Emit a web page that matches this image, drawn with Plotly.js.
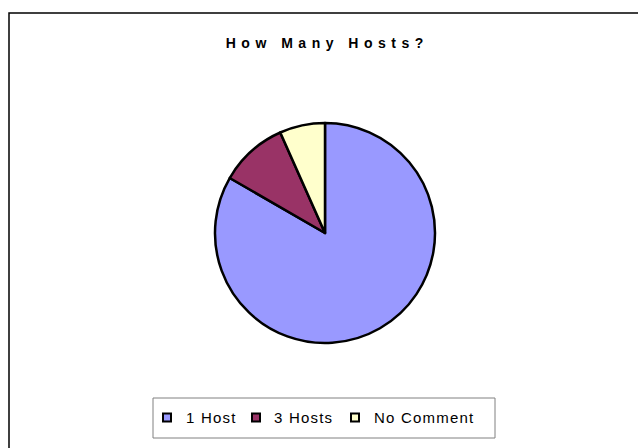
<!DOCTYPE html>
<html>
<head>
<meta charset="utf-8">
<script src="https://cdn.plot.ly/plotly-3.0.1.min.js"></script>
<style>
html,body{margin:0;padding:0;background:#fff;}
#chart{width:638px;height:448px;}
.gtitle{letter-spacing:5.5px;}
.annotation-text{letter-spacing:1.2px;}
</style>
</head>
<body>
<div id="chart"></div>
<script>
var labels = ["1 Host", "3 Hosts", "No Comment"];
var values = [25, 3, 2];
var colors = ["#9999FF", "#993366", "#FFFFCC"];
var chartTitle = "How Many Hosts?";

var W = 638, H = 448;
function px(x){ return x / W; }
function py(y){ return 1 - y / H; }

var cx = 325, cy = 233, r = 110;

var trace = {
  type: "pie",
  labels: labels,
  values: values,
  sort: false,
  direction: "clockwise",
  rotation: 0,
  textinfo: "none",
  hoverinfo: "label+value+percent",
  marker: {colors: colors, line: {color: "#000000", width: 2.5}},
  domain: {x: [px(cx - r), px(cx + r)], y: [py(cy + r), py(cy - r)]},
  showlegend: false
};

var shapes = [
  {type: "rect", xref: "paper", yref: "paper", x0: px(9), x1: px(660), y0: py(470), y1: py(13),
   line: {color: "#000000", width: 1.5}, fillcolor: "rgba(0,0,0,0)"},
  {type: "rect", xref: "paper", yref: "paper", x0: px(153), x1: px(495), y0: py(438), y1: py(398),
   line: {color: "#808080", width: 1}, fillcolor: "rgba(0,0,0,0)"}
];
var annotations = [];
var legendX = [167, 256, 355];
var textX = [185, 273, 373];
var legendY = 417.5;
for (var i = 0; i < labels.length; i++) {
  shapes.push({type: "rect", xref: "paper", yref: "paper",
    x0: px(legendX[i] - 4), x1: px(legendX[i] + 4), y0: py(legendY + 4), y1: py(legendY - 4),
    line: {color: "#000000", width: 2}, fillcolor: colors[i]});
  annotations.push({xref: "paper", yref: "paper", x: px(textX[i] - 1), y: py(legendY),
    xanchor: "left", yanchor: "middle", showarrow: false, text: labels[i],
    font: {family: "Liberation Sans, Arial, sans-serif", size: 15, color: "#000000"}});
}

var layout = {
  width: W, height: H,
  margin: {l: 0, r: 0, t: 0, b: 0},
  paper_bgcolor: "#ffffff",
  title: {text: chartTitle, x: 0.513, xanchor: "center", y: py(43.5), yref: "container", yanchor: "middle",
    font: {family: "Liberation Sans, Arial, sans-serif", size: 14, color: "#000000", weight: "bold"}},
  shapes: shapes,
  annotations: annotations,
  showlegend: false
};

Plotly.newPlot("chart", [trace], layout, {displayModeBar: false, staticPlot: true});
</script>
</body>
</html>
